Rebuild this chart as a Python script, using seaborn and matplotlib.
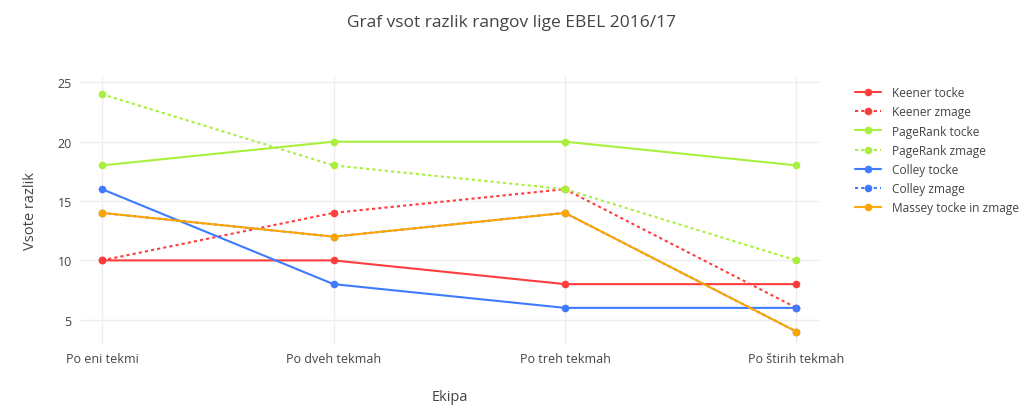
import matplotlib
matplotlib.use("Agg")
import matplotlib.pyplot as plt
import seaborn as sns
import pandas as pd

# podatki
krogi = ["Po eni tekmi", "Po dveh tekmah", "Po treh tekmah", "Po štirih tekmah"]
keener_tocke = [10, 10, 8, 8]
keener_zmage = [10, 14, 16, 6]
pagerank_tocke = [18, 20, 20, 18]
pagerank_zmage = [24, 18, 16, 10]
colley_tocke = [16, 8, 6, 6]
colley_zmage = [14, 12, 14, 4]
massey = [14, 12, 14, 4]

serije = [
    ("Keener tocke", keener_tocke, "#ff3d3d", "-"),
    ("Keener zmage", keener_zmage, "#ff3d3d", (0, (1.5, 1.5))),
    ("PageRank tocke", pagerank_tocke, "#a8f03c", "-"),
    ("PageRank zmage", pagerank_zmage, "#a8f03c", (0, (1.5, 1.5))),
    ("Colley tocke", colley_tocke, "#3e7bff", "-"),
    ("Colley zmage", colley_zmage, "#3e7bff", (0, (1.5, 1.5))),
    ("Massey tocke in zmage", massey, "#ffa500", "-"),
]

sns.set_style("white")
plt.rcParams["font.family"] = ["Open Sans", "DejaVu Sans"]

fig = plt.figure(figsize=(10.22, 4.06), dpi=100)
ax = fig.add_axes([0.0783, 0.150, 0.7237, 0.658])

pos = list(range(len(krogi)))
for ime, vals, barva, stil in serije:
    df = pd.DataFrame({"x": pos, "y": vals})
    sns.lineplot(data=df, x="x", y="y", ax=ax, color=barva, linestyle=stil,
                 linewidth=1.5, marker="o", markersize=5.5, markeredgewidth=0,
                 label=ime, sort=False)

ax.set_xlim(-0.095, 3.1)
ax.set_ylim(2.95, 25.45)
ax.set_xticks(pos)
ax.set_xticklabels(krogi)
ax.set_yticks([5, 10, 15, 20, 25])
ax.grid(True, color="#eeeeee", linewidth=1)
ax.set_axisbelow(True)
for s in ax.spines.values():
    s.set_visible(False)
ax.tick_params(axis="both", length=0, labelsize=9, colors="#444444", pad=6)

ax.set_xlabel("Ekipa", fontsize=10.5, color="#444444", labelpad=17)
ax.set_ylabel("Vsote razlik", fontsize=10.5, color="#444444", labelpad=14)
fig.suptitle("Graf vsot razlik rangov lige EBEL 2016/17", x=0.5, y=0.963,
             fontsize=12.5, color="#444444")

h, l = ax.get_legend_handles_labels()
ax.get_legend().remove()
leg = fig.legend(h, l, loc="upper left", bbox_to_anchor=(0.832, 0.797),
                 frameon=False, fontsize=8.6, handlelength=2.2,
                 handletextpad=0.9, labelspacing=0.52, borderaxespad=0)
for t in leg.get_texts():
    t.set_color("#444444")

fig.savefig("out.png", dpi=100)
